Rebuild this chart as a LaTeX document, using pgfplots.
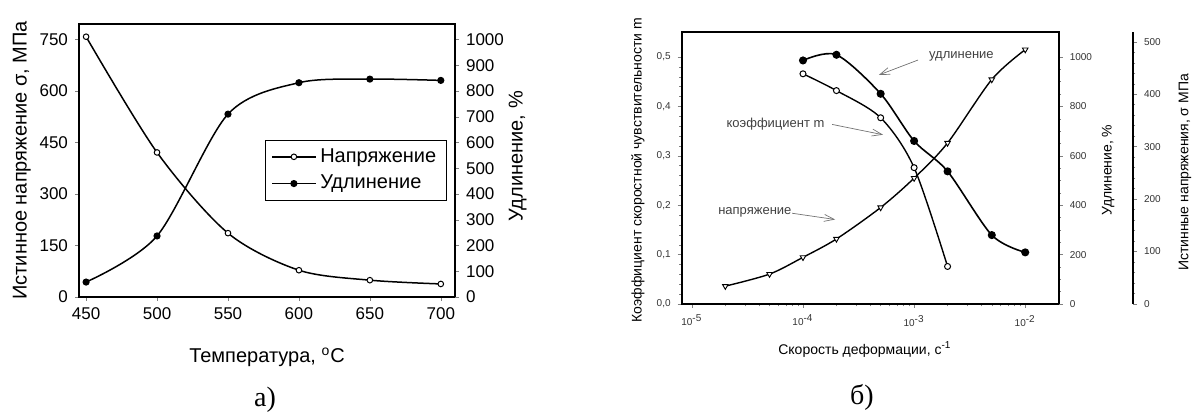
\documentclass[border=0pt]{standalone}
\usepackage{pgfplots}
\pgfplotsset{compat=1.18}
\usepackage{fontspec}
\setmainfont{Liberation Sans}
\newfontfamily\capfont{Liberation Serif}
\usetikzlibrary{arrows.meta}

\pgfplotstableread{
T    s    e
450  758  58
500  421  237
550  186  710
600  78   832
650  49   846
700  38   841
}\tempdata

\pgfplotstableread{
r     m
1e-4  0.466
2e-4  0.432
5e-4  0.377
1e-3  0.276
2e-3  0.076
}\mdata

\pgfplotstableread{
r     e
1e-4  986
2e-4  1009
5e-4  851
1e-3  660
2e-3  537
5e-3  279
1e-2  209
}\edata

\pgfplotstableread{
r     s
2e-5  34
5e-5  57
1e-4  89
2e-4  124
5e-4  184
1e-3  240
2e-3  307
5e-3  428
1e-2  485
}\sdata

\pgfplotsset{
  achart/.style={
    scale only axis, width=188pt, height=136.5pt,
    at={(39.5pt,-148.5pt)}, anchor=south west,
    xmin=445, xmax=710,
    tick align=outside, major tick length=2pt,
    tick label style={font=\fontsize{8.5}{10}\selectfont,
      /pgf/number format/assume math mode=true, /pgf/number format/1000 sep={}},
    label style={font=\fontsize{10}{12}\selectfont},
    axis line style={line width=0.8pt},
  },
  bchart/.style={
    scale only axis, width=188.5pt, height=135.85pt,
    at={(340.85pt,-152pt)}, anchor=south west,
    tick align=outside, major tick length=2pt, minor tick length=1.2pt,
    tick label style={font=\fontsize{5}{6}\selectfont, black!80,
      /pgf/number format/assume math mode=true, /pgf/number format/1000 sep={}},
    label style={font=\fontsize{7}{8}\selectfont},
    axis line style={line width=0.9pt},
  },
}

\begin{document}
\begin{tikzpicture}
\path[use as bounding box] (0,0) rectangle (597.5pt,-208pt);

% ---------- a) ----------
\begin{axis}[achart,
  ymin=0, ymax=795,
  xtick={450,500,550,600,650,700},
  ytick={0,150,300,450,600,750},
  xtick pos=bottom, ytick pos=left,
  xlabel={Температура, \textsuperscript{o}C},
  ylabel={Истинное напряжение σ, МПа},
  xlabel style={at={(axis description cs:0.5,-0.22)}, anchor=center},
  ylabel style={at={(axis description cs:-0.152,0.5)}, anchor=center},
  legend style={at={(0.495,0.575)}, anchor=north west, draw=black,
    font=\fontsize{10}{12}\selectfont, inner xsep=3pt, inner ysep=2pt,
    row sep=1pt},
  legend cell align=left,
  legend image code/.code={\draw[mark repeat=2,mark phase=2,#1]
    plot coordinates {(0cm,0cm) (0.38cm,0cm) (0.76cm,0cm)};},
]
\addplot[black, line width=0.75pt, smooth, mark=*, mark size=1.4pt,
  mark options={fill=white, line width=0.5pt}] table[x=T, y=s] {\tempdata};
\addlegendentry{Напряжение}
\addlegendimage{black, line width=0.75pt, mark=*, mark size=1.4pt}
\addlegendentry{Удлинение}
\end{axis}

\begin{axis}[achart,
  ymin=0, ymax=1060,
  axis y line*=right, axis x line=none,
  ytick={0,100,...,1000},
  ylabel={Удлинение, \%},
  ylabel style={at={(axis description cs:1.167,0.516)}, anchor=center},
]
\addplot[black, line width=0.75pt, smooth, mark=*, mark size=1.4pt]
  table[x=T, y=e] {\tempdata};
\end{axis}

\node[font=\capfont\fontsize{14}{16}\selectfont] at (132.5pt,-200pt) {а)};

% ---------- b) ----------
\begin{axis}[bchart,
  xmode=log, xmin=8.1e-6, xmax=2.0e-2,
  ymin=0, ymax=0.55,
  xtick={1e-5,1e-4,1e-3,1e-2},
  xticklabels={10\textsuperscript{-5},10\textsuperscript{-4},10\textsuperscript{-3},10\textsuperscript{-2}},
  ytick={0,0.1,0.2,0.3,0.4,0.5},
  minor y tick num=4,
  xtick pos=bottom, ytick pos=left,
  yticklabel style={/pgf/number format/.cd, use comma, fixed, fixed zerofill, precision=1},
  xlabel={Скорость деформации, с\textsuperscript{-1}},
  ylabel={Коэффициент скоростной чувствительности m},
  xlabel style={at={(axis description cs:0.486,-0.169)}, anchor=center},
  ylabel style={at={(axis description cs:-0.116,0.493)}, anchor=center},
]
\addplot[black, line width=0.7pt, smooth, mark=*, mark size=1.5pt,
  mark options={fill=white, line width=0.5pt}] table[x=r, y=m] {\mdata};

\node[font=\fontsize{6.5}{8}\selectfont, black!75] at (rel axis cs:0.742,0.913) {удлинение};
\draw[black!55, line width=0.35pt, -{Straight Barb[length=5pt,width=3.5pt]}]
  (rel axis cs:0.627,0.898) -- (rel axis cs:0.523,0.843);
\node[font=\fontsize{6.5}{8}\selectfont, black!75] at (rel axis cs:0.249,0.6625) {коэффициент m};
\draw[black!55, line width=0.35pt, -{Straight Barb[length=5pt,width=3.5pt]}]
  (rel axis cs:0.399,0.661) -- (rel axis cs:0.534,0.623);
\node[font=\fontsize{6.5}{8}\selectfont, black!75] at (rel axis cs:0.194,0.336) {напряжение};
\draw[black!55, line width=0.35pt, -{Straight Barb[length=5pt,width=3.5pt]}]
  (rel axis cs:0.293,0.334) -- (rel axis cs:0.407,0.311);
\end{axis}

\begin{axis}[bchart,
  xmode=log, xmin=8.1e-6, xmax=2.0e-2,
  ymin=0, ymax=1100,
  axis y line*=right, axis x line=none,
  ytick={0,200,400,600,800,1000},
  minor y tick num=3,
  ylabel={Удлинение, \%},
  ylabel style={at={(axis description cs:1.131,0.493)}, anchor=center},
]
\addplot[black, line width=0.8pt, smooth, mark=*, mark size=1.6pt]
  table[x=r, y=e] {\edata};
\end{axis}

\begin{axis}[bchart, hide axis,
  xmode=log, xmin=8.1e-6, xmax=2.0e-2,
  ymin=0, ymax=518,
]
\addplot[black, line width=0.7pt, smooth, mark=triangle*, mark size=1.6pt,
  mark options={fill=white, rotate=180, line width=0.45pt}] table[x=r, y=s] {\sdata};
\end{axis}

\begin{axis}[bchart,
  width=20pt, at={(566.5pt,-152pt)}, anchor=south east,
  xmin=0, xmax=1, ymin=0, ymax=518,
  axis y line*=right, axis x line=none,
  ytick={0,100,200,300,400,500},
  minor y tick num=4,
  ylabel={Истинные напряжения, σ МПа},
  ylabel style={at={(axis description cs:2.3,0.484)}, anchor=center},
]
\end{axis}

\node[font=\capfont\fontsize{14}{16}\selectfont] at (431pt,-198.5pt) {б)};
\end{tikzpicture}
\end{document}
